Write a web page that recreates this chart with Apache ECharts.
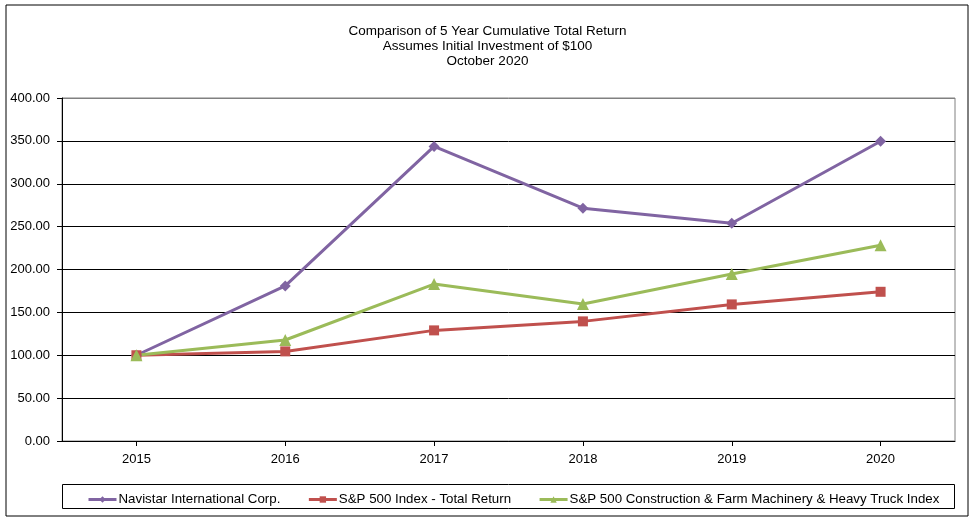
<!DOCTYPE html>
<html><head><meta charset="utf-8">
<script src="https://cdn.jsdelivr.net/npm/echarts@6/dist/echarts.min.js"></script>
<style>html,body{margin:0;padding:0;background:#fff}#c{width:975px;height:523px}</style>
</head><body><div id="c"></div>
<script>
const years = ['2015','2016','2017','2018','2019','2020'];
const navistar = [100, 180.8, 343.5, 271.5, 254, 349.5];
const sp500 = [100, 104.5, 129, 139.5, 159.3, 174];
const machinery = [100, 117.8, 183, 159.8, 194.8, 228.2];
const seriesNames = ['Navistar International Corp.', 'S&P 500 Index - Total Return', 'S&P 500 Construction & Farm Machinery & Heavy Truck Index'];
const titleLines = ['Comparison of 5 Year Cumulative Total Return', 'Assumes Initial Investment of $100', 'October 2020'];

const font = 'Liberation Sans, Arial, sans-serif';
const chart = echarts.init(document.getElementById('c'), null, {renderer: 'canvas'});
function mk(name, data, color, symbol, size) {
  return {
    name, type: 'line', data, symbol, symbolSize: size,
    lineStyle: {color, width: 3}, itemStyle: {color},
    emphasis: {disabled: true}, animation: false
  };
}
chart.setOption({
  animation: false,
  textStyle: {fontFamily: font},
  title: {
    text: titleLines.join('\n'), left: 'center', top: 19,
    textStyle: {fontFamily: font, fontSize: 13.5, fontWeight: 'normal', color: '#000', lineHeight: 15}
  },
  grid: {left: 62, right: 20, top: 98, bottom: 82, show: true, borderColor: '#808080', borderWidth: 1},
  xAxis: {
    type: 'category', data: years, boundaryGap: true,
    axisLine: {lineStyle: {color: '#000', width: 1}},
    axisTick: {show: true, alignWithLabel: true, length: 5, lineStyle: {color: '#000'}},
    axisLabel: {color: '#000', fontSize: 13, fontFamily: font, margin: 12}
  },
  yAxis: {
    type: 'value', min: 0, max: 400, interval: 50,
    axisLine: {show: true, lineStyle: {color: '#000', width: 1}},
    axisTick: {show: true, length: 5, lineStyle: {color: '#000'}},
    axisLabel: {color: '#000', fontSize: 13, fontFamily: font, margin: 12, formatter: v => v.toFixed(2)},
    splitLine: {show: true, lineStyle: {color: ['#000','#000','#000','#000','#000','#000','#000','#000','#808080'], width: 1}}
  },
  legend: {
    data: seriesNames, left: 82, top: 488, itemGap: 27, itemWidth: 28, itemHeight: 8,
    lineStyle: {width: 3},
    textStyle: {fontFamily: font, fontSize: 13.3, color: '#000', padding: [0,0,0,-3]},
    selectedMode: false
  },
  graphic: [
    {type: 'rect', shape: {x: 6, y: 5, width: 962, height: 511}, style: {fill: 'none', stroke: '#000', lineWidth: 1}, silent: true, z: -1},
    {type: 'rect', shape: {x: 62.5, y: 484.5, width: 892, height: 24}, style: {fill: 'none', stroke: '#000', lineWidth: 1}, silent: true}
  ],
  series: [
    mk(seriesNames[0], navistar, '#8064A2', 'diamond', 11),
    mk(seriesNames[1], sp500, '#C0504D', 'rect', 10),
    mk(seriesNames[2], machinery, '#9BBB59', 'triangle', 12)
  ]
});
</script></body></html>
